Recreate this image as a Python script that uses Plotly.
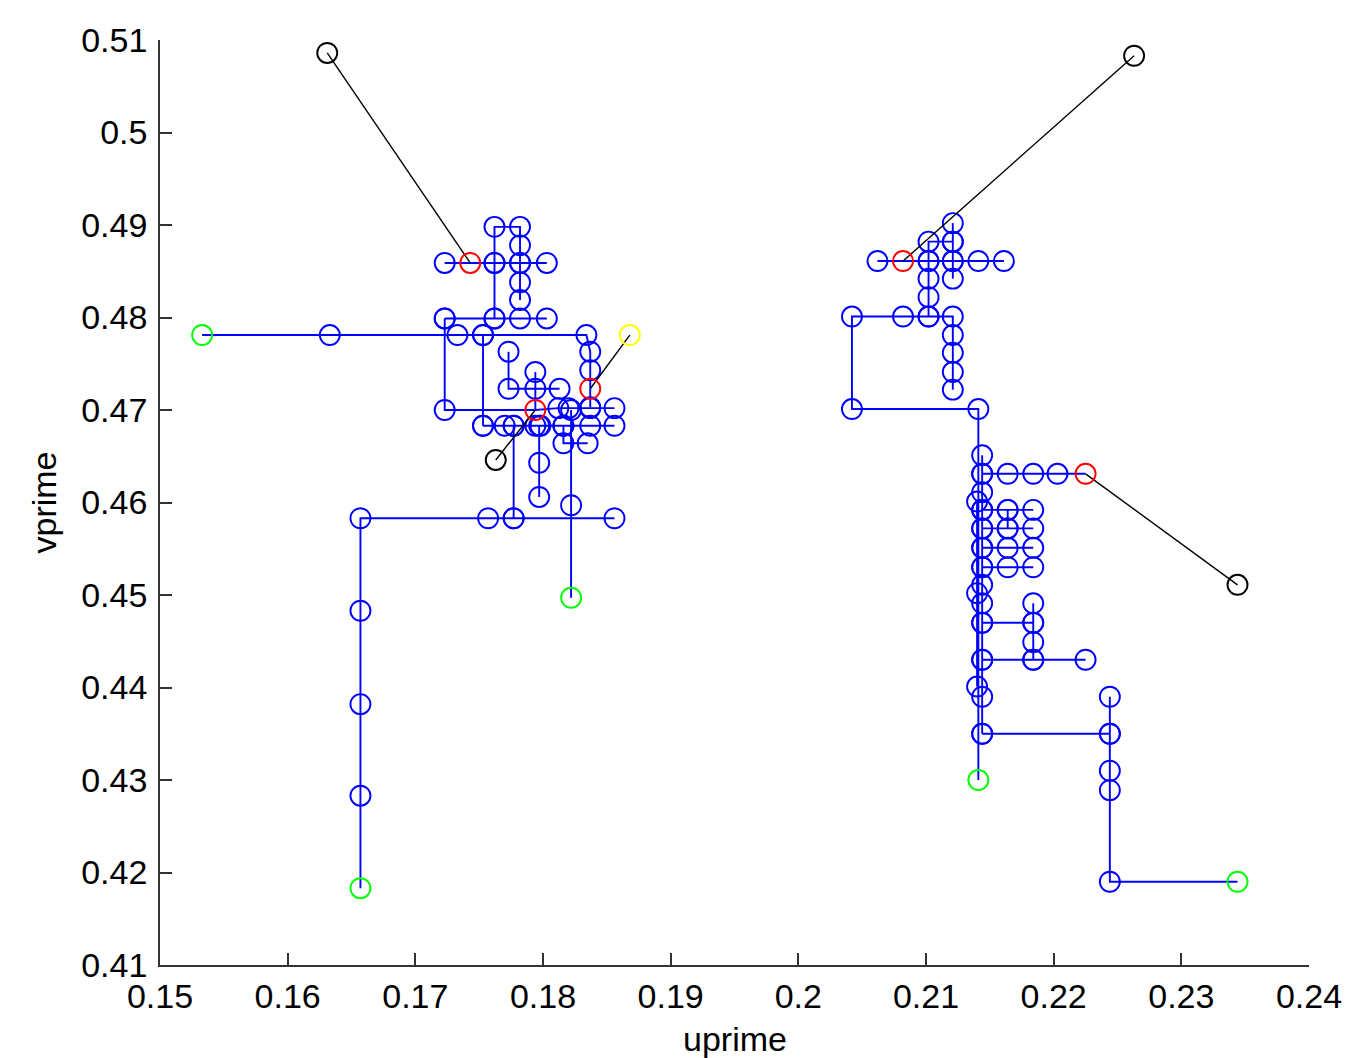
import plotly.graph_objects as go

# ---------------- data ----------------
x_ticks = [0.15, 0.16, 0.17, 0.18, 0.19, 0.20, 0.21, 0.22, 0.23, 0.24]
x_tick_labels = ["0.15", "0.16", "0.17", "0.18", "0.19", "0.2", "0.21", "0.22", "0.23", "0.24"]
y_ticks = [0.41, 0.42, 0.43, 0.44, 0.45, 0.46, 0.47, 0.48, 0.49, 0.50, 0.51]
y_tick_labels = ["0.41", "0.42", "0.43", "0.44", "0.45", "0.46", "0.47", "0.48", "0.49", "0.5", "0.51"]

# left cluster trajectories (blue, stepwise)
p1_x = [0.1533, 0.1633, 0.1733, 0.1753, 0.1834, 0.1837, 0.1837, 0.1837, 0.1837]
p1_y = [0.4781, 0.4781, 0.4781, 0.4781, 0.4781, 0.4763, 0.4743, 0.4723, 0.4703]
p2_x = [0.1657, 0.1657, 0.1657, 0.1657, 0.1657, 0.1757, 0.1777, 0.1856]
p2_y = [0.4183, 0.4283, 0.4382, 0.4483, 0.4583, 0.4583, 0.4583, 0.4583]
p3_x = [0.1777, 0.1777]
p3_y = [0.4583, 0.4683]
p4_x = [0.1822, 0.1822, 0.1822]
p4_y = [0.4497, 0.4597, 0.4700]
p5_x = [0.1753, 0.1770, 0.1777, 0.1794, 0.1798, 0.1816, 0.1837, 0.1856]
p5_y = [0.4683, 0.4683, 0.4683, 0.4683, 0.4683, 0.4683, 0.4683, 0.4683]
p6_x = [0.1753, 0.1753]
p6_y = [0.4781, 0.4683]
p7_x = [0.1723, 0.1723, 0.1794, 0.1812, 0.1820, 0.1837, 0.1856]
p7_y = [0.4799, 0.4700, 0.4700, 0.4702, 0.4702, 0.4702, 0.4702]
p8_x = [0.1723, 0.1762, 0.1782, 0.1803]
p8_y = [0.4799, 0.4799, 0.4799, 0.4799]
p9_x = [0.1762, 0.1762, 0.1762, 0.1782, 0.1782, 0.1782, 0.1782, 0.1782]
p9_y = [0.4799, 0.4859, 0.4898, 0.4898, 0.4878, 0.4859, 0.4838, 0.4819]
p10_x = [0.1723, 0.1743, 0.1762, 0.1782, 0.1803]
p10_y = [0.4859, 0.4859, 0.4859, 0.4859, 0.4859]
p11_x = [0.1773, 0.1773, 0.1794, 0.1813]
p11_y = [0.4763, 0.4723, 0.4723, 0.4723]
p12_x = [0.1794, 0.1794]
p12_y = [0.4741, 0.4700]
p13_x = [0.1797, 0.1797, 0.1797]
p13_y = [0.4683, 0.4643, 0.4606]
p14_x = [0.1816, 0.1816, 0.1835]
p14_y = [0.4683, 0.4664, 0.4664]

# right cluster trajectories
q1_x = [0.2344, 0.2244, 0.2244, 0.2244, 0.2244, 0.2244]
q1_y = [0.4190, 0.4190, 0.4289, 0.4310, 0.4350, 0.4390]
q2_x = [0.2244, 0.2144]
q2_y = [0.4350, 0.4350]
q3_x = [0.2141, 0.2141, 0.2042, 0.2042, 0.2082, 0.2102, 0.2121, 0.2121, 0.2121, 0.2121, 0.2121]
q3_y = [0.4300, 0.4701, 0.4701, 0.4801, 0.4801, 0.4801, 0.4801, 0.4781, 0.4762, 0.4741, 0.4722]
q4_x = [0.2144] * 13
q4_y = [0.4350, 0.4390, 0.4430, 0.4470, 0.4491, 0.4511, 0.4530, 0.4551, 0.4572, 0.4592, 0.4611, 0.4631, 0.4651]
q5_x = [0.2140, 0.2140, 0.2140]
q5_y = [0.4401, 0.4502, 0.4601]
q6_x = [0.2144, 0.2164, 0.2184, 0.2203, 0.2225]
q6_y = [0.4631, 0.4631, 0.4631, 0.4631, 0.4631]
q7_x = [0.2144, 0.2164, 0.2184]
q7_y = [0.4592, 0.4592, 0.4592]
q8_x = [0.2164, 0.2164]
q8_y = [0.4592, 0.4572]
q9_x = [0.2144, 0.2164, 0.2184]
q9_y = [0.4572, 0.4572, 0.4572]
q10_x = [0.2144, 0.2164, 0.2184]
q10_y = [0.4551, 0.4551, 0.4551]
q11_x = [0.2144, 0.2164, 0.2184]
q11_y = [0.4530, 0.4530, 0.4530]
q12_x = [0.2144, 0.2184]
q12_y = [0.4470, 0.4470]
q13_x = [0.2184, 0.2184, 0.2184, 0.2184]
q13_y = [0.4491, 0.4470, 0.4449, 0.4430]
q14_x = [0.2144, 0.2184, 0.2225]
q14_y = [0.4430, 0.4430, 0.4430]
q15_x = [0.2062, 0.2082, 0.2102, 0.2121, 0.2141, 0.2161]
q15_y = [0.4861, 0.4861, 0.4861, 0.4861, 0.4861, 0.4861]
q16_x = [0.2102, 0.2102, 0.2102, 0.2102, 0.2102, 0.2121]
q16_y = [0.4801, 0.4822, 0.4842, 0.4861, 0.4882, 0.4882]
q17_x = [0.2121, 0.2121, 0.2121, 0.2121]
q17_y = [0.4902, 0.4882, 0.4861, 0.4842]

# start points (green), end points (red)
start_x = [0.1533, 0.1657, 0.1822, 0.2141, 0.2344]
start_y = [0.4781, 0.4183, 0.4497, 0.4300, 0.4190]
end_x = [0.1743, 0.1794, 0.1837, 0.2082, 0.2225]
end_y = [0.4859, 0.4700, 0.4723, 0.4861, 0.4631]

# black links: from red end point to an outer point
link_x = [0.1631, 0.1763, 0.2263, 0.2344]
link_y = [0.5086, 0.4646, 0.5083, 0.4511]
link_end_x = [0.1743, 0.1794, 0.2082, 0.2225]
link_end_y = [0.4859, 0.4700, 0.4861, 0.4631]
yellow_x = [0.1868]
yellow_y = [0.4781]
yellow_end_x = [0.1837]
yellow_end_y = [0.4723]

paths = [
    (p1_x, p1_y), (p2_x, p2_y), (p3_x, p3_y), (p4_x, p4_y), (p5_x, p5_y),
    (p6_x, p6_y), (p7_x, p7_y), (p8_x, p8_y), (p9_x, p9_y), (p10_x, p10_y),
    (p11_x, p11_y), (p12_x, p12_y), (p13_x, p13_y), (p14_x, p14_y),
    (q1_x, q1_y), (q2_x, q2_y), (q3_x, q3_y), (q4_x, q4_y), (q5_x, q5_y),
    (q6_x, q6_y), (q7_x, q7_y), (q8_x, q8_y), (q9_x, q9_y), (q10_x, q10_y),
    (q11_x, q11_y), (q12_x, q12_y), (q13_x, q13_y), (q14_x, q14_y),
    (q15_x, q15_y), (q16_x, q16_y), (q17_x, q17_y),
]

# ---------------- figure ----------------
special = set(zip(start_x, start_y)) | set(zip(end_x, end_y))

line_x, line_y, mk_x, mk_y = [], [], [], []
for px, py in paths:
    line_x += list(px) + [None]
    line_y += list(py) + [None]
    for a, b in zip(px, py):
        if (a, b) not in special:
            mk_x.append(a)
            mk_y.append(b)

MS = 20
LW = 1.9
fig = go.Figure()
fig.add_trace(go.Scatter(x=line_x, y=line_y, mode="lines",
                         line=dict(color="#0000FF", width=LW), hoverinfo="skip"))
fig.add_trace(go.Scatter(x=mk_x, y=mk_y, mode="markers",
                         marker=dict(symbol="circle-open", size=MS, color="#0000FF",
                                     line=dict(width=LW, color="#0000FF"))))

bx, by = [], []
for a, b, c, d in zip(link_x, link_y, link_end_x, link_end_y):
    bx += [a, c, None]
    by += [b, d, None]
for a, b, c, d in zip(yellow_x, yellow_y, yellow_end_x, yellow_end_y):
    bx += [a, c, None]
    by += [b, d, None]
fig.add_trace(go.Scatter(x=bx, y=by, mode="lines", line=dict(color="black", width=1.4)))
fig.add_trace(go.Scatter(x=link_x, y=link_y, mode="markers",
                         marker=dict(symbol="circle-open", size=MS, color="black",
                                     line=dict(width=LW, color="#222222"))))
fig.add_trace(go.Scatter(x=start_x, y=start_y, mode="markers",
                         marker=dict(symbol="circle-open", size=MS, color="#00FF00",
                                     line=dict(width=LW, color="#00FF00"))))
fig.add_trace(go.Scatter(x=end_x, y=end_y, mode="markers",
                         marker=dict(symbol="circle-open", size=MS, color="#FF0000",
                                     line=dict(width=LW, color="#FF0000"))))
fig.add_trace(go.Scatter(x=yellow_x, y=yellow_y, mode="markers",
                         marker=dict(symbol="circle-open", size=MS, color="#FFFF00",
                                     line=dict(width=LW, color="#FFFF00"))))

FS = 34
axis_common = dict(showline=True, linecolor="#333333", linewidth=1.6, ticks="inside",
                   ticklen=12, tickwidth=1.5, tickcolor="#333333", showgrid=False,
                   zeroline=False, mirror=False, automargin=False,
                   tickfont=dict(family="Liberation Sans, Arial", size=FS, color="black"))

fig.update_layout(
    width=1362, height=1058,
    margin=dict(l=160, r=53, t=40, b=93),
    paper_bgcolor="white", plot_bgcolor="white",
    showlegend=False,
    font=dict(family="Liberation Sans, Arial", size=FS, color="black"),
    xaxis=dict(range=[0.15, 0.24], tickvals=x_ticks, ticktext=x_tick_labels,
               ticklabelstandoff=0, **axis_common),
    yaxis=dict(range=[0.41, 0.51], tickvals=y_ticks, ticktext=y_tick_labels,
               title=dict(text="vprime", font=dict(size=FS), standoff=14),
               ticklabelstandoff=4, **axis_common),
    annotations=[dict(text="uprime", xref="paper", yref="paper", x=0.5, y=0,
                      xanchor="center", yanchor="middle", yshift=-74, showarrow=False,
                      font=dict(family="Liberation Sans, Arial", size=FS, color="black"))],
)

fig.write_html("out.html", config={"displayModeBar": False},
               post_script="document.body.style.margin='0';document.body.style.overflow='hidden';")
